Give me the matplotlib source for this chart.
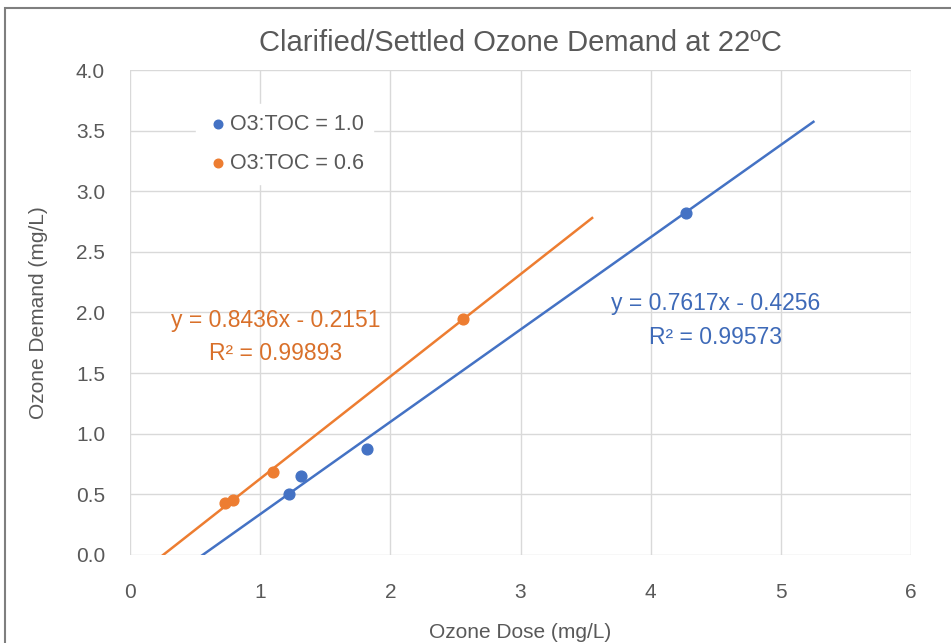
import numpy as np
import matplotlib.pyplot as plt
from matplotlib.patches import Rectangle

# Data
dose_10 = [1.22, 1.31, 1.82, 4.27]
demand_10 = [0.50, 0.65, 0.87, 2.82]
dose_06 = [0.73, 0.79, 1.10, 2.56]
demand_06 = [0.43, 0.45, 0.68, 1.95]

# Trendline coefficients as printed on the chart
slope_10, icpt_10, r2_10 = 0.7617, -0.4256, 0.99573
slope_06, icpt_06, r2_06 = 0.8436, -0.2151, 0.99893
line_x_10 = [0.4, 5.25]
line_x_06 = [0.1, 3.55]

blue = "#4472C4"
orange = "#ED7D31"
grey = "#595959"

plt.rcParams['font.family'] = ['Liberation Sans', 'DejaVu Sans']

fig = plt.figure(figsize=(9.51, 6.43), dpi=100)
ax = fig.add_axes([0.1367, 0.137, 0.8213, 0.754])

# Trendlines
lx = np.array(line_x_10)
ax.plot(lx, slope_10 * lx + icpt_10, color=blue, lw=1.8, zorder=2)
lx = np.array(line_x_06)
ax.plot(lx, slope_06 * lx + icpt_06, color=orange, lw=1.8, zorder=2)

# Points
ax.scatter(dose_10, demand_10, color=blue, s=60, zorder=3, label="O3:TOC = 1.0")
ax.scatter(dose_06, demand_06, color=orange, s=60, zorder=3, label="O3:TOC = 0.6")

ax.set_xlim(0, 6)
ax.set_ylim(0, 4)
ax.set_xticks(range(0, 7))
ax.set_yticks(np.arange(0, 4.01, 0.5))
ax.set_yticklabels([f"{v:.1f}" for v in np.arange(0, 4.01, 0.5)])
ax.grid(True, color="#D9D9D9", lw=1)
ax.set_axisbelow(True)
for s in ax.spines.values():
    s.set_visible(False)
ax.tick_params(axis="x", length=0, colors=grey, labelsize=15, pad=20)
ax.tick_params(axis="y", length=0, colors=grey, labelsize=15, pad=18)

ax.set_title("Clarified/Settled Ozone Demand at 22ºC", fontsize=21, color=grey, pad=14)
ax.set_xlabel("Ozone Dose (mg/L)", fontsize=15, color=grey, labelpad=15)
ax.set_ylabel("Ozone Demand (mg/L)", fontsize=15, color=grey, labelpad=20)

# Equations
ax.text(1.12, 1.795, f"y = {slope_06}x - {-icpt_06}\nR² = {r2_06}", color="#D9702A",
        fontsize=16.5, ha="center", va="center", linespacing=1.55)
ax.text(4.5, 1.935, f"y = {slope_10}x - {-icpt_10}\nR² = {r2_10}", color="#3E6AB8",
        fontsize=16.5, ha="center", va="center", linespacing=1.6)

leg = ax.legend(loc="upper left", bbox_to_anchor=(0.085, 0.93), frameon=True,
                fontsize=15.5, handletextpad=0.0, labelspacing=0.85,
                borderpad=0.45, handlelength=1.1, markerscale=0.8,
                borderaxespad=0)
leg.get_frame().set_edgecolor("white")
leg.get_frame().set_facecolor("white")
leg.get_frame().set_alpha(1)
for t in leg.get_texts():
    t.set_color(grey)

# Chart border
fig.patches.append(Rectangle((5 / 951, -0.01), 1.0, 1 - 8 / 643 + 0.01,
                             transform=fig.transFigure, fill=False,
                             edgecolor="#7F7F7F", lw=1.5))

fig.savefig("out.png", dpi=100)
